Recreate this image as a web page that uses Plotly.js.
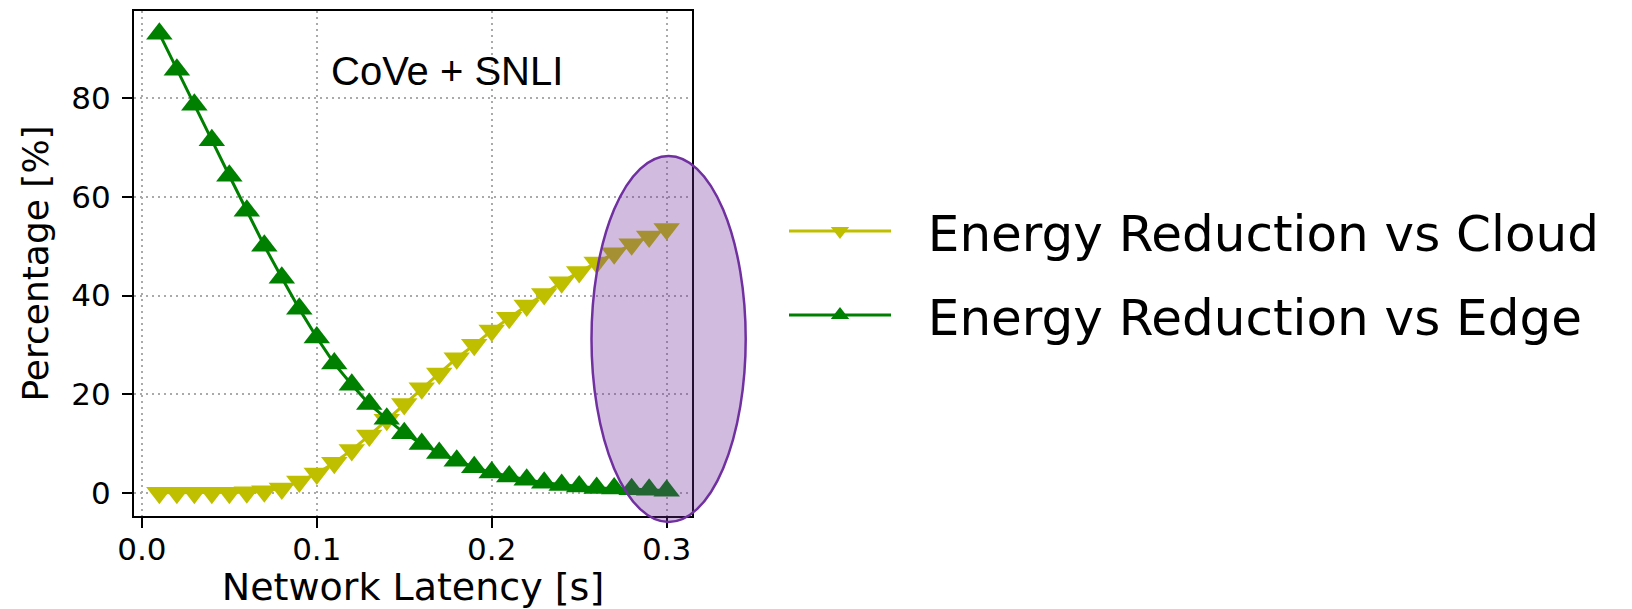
<!DOCTYPE html>
<html>
<head>
<meta charset="utf-8">
<script src="https://cdn.plot.ly/plotly-3.0.1.min.js"></script>
<style>html,body{margin:0;padding:0;background:#fff;}#chart{width:1632px;height:609px;}</style>
</head>
<body>
<div id="chart"></div>
<script>
// ---- data ----
var latency = [0.01,0.02,0.03,0.04,0.05,0.06,0.07,0.08,0.09,0.10,
               0.11,0.12,0.13,0.14,0.15,0.16,0.17,0.18,0.19,0.20,
               0.21,0.22,0.23,0.24,0.25,0.26,0.27,0.28,0.29,0.30];
var reductionVsCloud = [0,0,0,0,0,0.1,0.3,0.9,2.3,3.9,
                        6.1,8.7,11.6,14.8,18.0,21.2,24.2,27.3,30.0,32.9,
                        35.5,38.0,40.3,42.7,44.8,46.7,48.6,50.4,52.0,53.5];
var reductionVsEdge = [93.1,85.8,78.7,71.5,64.3,57.2,50.1,43.6,37.3,31.5,
                       26.2,21.9,18.0,15.0,12.1,9.9,8.1,6.5,5.2,4.1,
                       3.3,2.65,2.05,1.6,1.3,1.0,0.9,0.7,0.6,0.4];
var seriesNames = ["Energy Reduction vs Cloud", "Energy Reduction vs Edge"];
var xTicks = [0.0, 0.1, 0.2, 0.3];
var xTickLabels = ["0.0", "0.1", "0.2", "0.3"];
var yTicks = [0, 20, 40, 60, 80];
var yTickLabels = ["0", "20", "40", "60", "80"];
var panelLabel = "CoVe + SNLI";
var xTitle = "Network Latency [s]";
var yTitle = "Percentage [%]";

var W = 1632, H = 609;
var M = {l: 134, r: W - 692, t: 11, b: H - 516};
var pw = W - M.l - M.r, ph = H - M.t - M.b;
function px2paperX(p){ return (p - M.l) / pw; }
function px2paperY(p){ return (H - M.b - p) / ph; }

var legendPad = "\u00a0\u00a0";

var traces = [
  {
    x: latency, y: reductionVsCloud, name: legendPad + seriesNames[0], legendgroup: "a",
    type: "scatter", mode: "lines+markers",
    line: {color: "#bfbf00", width: 3},
    marker: {symbol: "triangle-down", size: 23, color: "#bfbf00"}
  },
  {
    x: latency, y: reductionVsEdge, name: legendPad + seriesNames[1], legendgroup: "b",
    type: "scatter", mode: "lines+markers",
    line: {color: "#008000", width: 3},
    marker: {symbol: "triangle-up", size: 23, color: "#008000"}
  }
];

var axisCommon = {
  showline: true, linecolor: "#000", linewidth: 2, mirror: true,
  ticks: "outside", ticklen: 10, tickwidth: 2, tickcolor: "#000",
  showgrid: true, gridcolor: "#aaaaaa", gridwidth: 2, griddash: "2px,4px",
  zeroline: false,
  tickfont: {family: "DejaVu Sans", size: 31, color: "#000"}
};

var layout = {
  width: W, height: H,
  margin: M,
  paper_bgcolor: "#fff", plot_bgcolor: "#fff",
  showlegend: true,
  xaxis: Object.assign({}, axisCommon, {
    range: [-0.0045, 0.3145],
    tickvals: xTicks, ticktext: xTickLabels,
    ticklabelstandoff: -5,
    title: {text: xTitle, font: {family: "DejaVu Sans", size: 38, color: "#000"}, standoff: 13}
  }),
  yaxis: Object.assign({}, axisCommon, {
    range: [-4.7, 97.7],
    tickvals: yTicks, ticktext: yTickLabels,
    ticklabelstandoff: 5,
    title: {text: yTitle, font: {family: "DejaVu Sans", size: 36, color: "#000"}, standoff: 12}
  }),
  legend: {
    x: px2paperX(784), y: px2paperY(192), xanchor: "left", yanchor: "top",
    font: {family: "DejaVu Sans", size: 50, color: "#000"},
    bgcolor: "rgba(0,0,0,0)", borderwidth: 0,
    itemwidth: 102, traceorder: "grouped", tracegroupgap: 16
  },
  annotations: [{
    text: panelLabel, xref: "paper", yref: "paper",
    x: px2paperX(446.5), y: px2paperY(71), xanchor: "center", yanchor: "middle",
    showarrow: false,
    font: {family: "Liberation Sans, sans-serif", size: 40, color: "#000"}
  }],
  shapes: [{
    type: "circle", xref: "paper", yref: "paper", layer: "above",
    x0: px2paperX(591.5), x1: px2paperX(745.7),
    y0: px2paperY(522), y1: px2paperY(156),
    line: {color: "#7030a0", width: 2.5},
    fillcolor: "rgba(112,48,160,0.32)"
  }]
};

Plotly.newPlot("chart", traces, layout, {displayModeBar: false, staticPlot: true});
</script>
</body>
</html>
